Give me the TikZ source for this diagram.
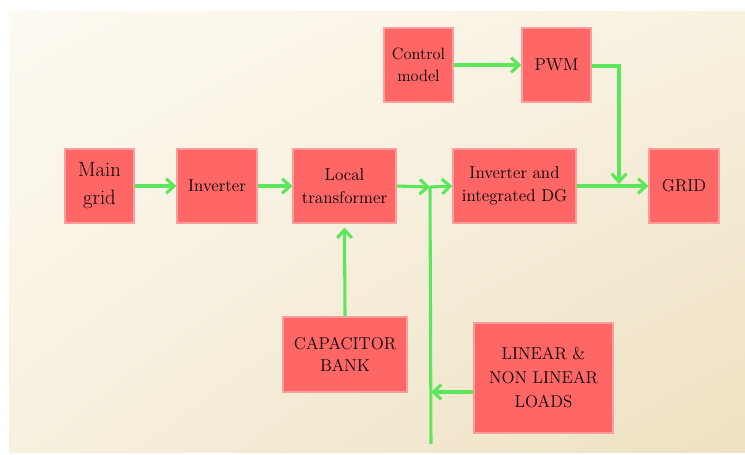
\documentclass[tikz,border=0pt]{standalone}
\usepackage{fontspec}
\usetikzlibrary{arrows.meta,shadings}
\definecolor{boxfill}{HTML}{FF6666}
\definecolor{boxline}{HTML}{FF9C9C}
\definecolor{wire}{HTML}{5CE65C}
\definecolor{bgTL}{HTML}{FDFAF2}
\definecolor{bgTR}{HTML}{F8F1DF}
\definecolor{bgBL}{HTML}{F7F0DE}
\definecolor{bgBR}{HTML}{EEE1C2}
\tikzset{
  blk/.style 2 args={draw=boxline, line width=0.9pt, fill=boxfill, align=center,
    inner sep=1pt, minimum width=#1*0.75pt, minimum height=#2*0.75pt,
    font=\fontsize{12.8}{16.8}\selectfont},
  wirearrow/.style={draw=wire, line width=2.3pt, -{Straight Barb[length=6pt,width=11pt,line width=2.3pt]}},
  wireline/.style={draw=wire, line width=2.3pt}
}
\begin{document}
\begin{tikzpicture}[x=0.75pt,y=-0.75pt]
\useasboundingbox (0,0) rectangle (745,454);
\fill[white] (0,0) rectangle (745,454);
\shade[upper left=bgTL, upper right=bgTR, lower left=bgBL, lower right=bgBR] (9,11) rectangle (745,452);

\node[blk={69}{74}, font=\fontsize{15.5}{21}\selectfont] (main) at (99.5,186) {Main\\grid};
\node[blk={80}{74}] (inv) at (217,186) {Inverter};
\node[blk={103}{74}] (local) at (344.5,186) {Local\\transformer};
\node[blk={123}{74}] (dg) at (514.5,186) {Inverter and\\integrated DG};
\node[blk={70}{74}] (grid) at (684,186) {GRID};
\node[blk={69}{74}, font=\fontsize{12.3}{16.8}\selectfont] (ctrl) at (418.5,65) {Control\\model};
\node[blk={69}{74}] (pwm) at (556.5,65) {PWM};
\node[blk={124}{75}] (cap) at (345,354.5) {CAPACITOR\\BANK};
\node[blk={139}{110}, font=\fontsize{12.8}{18}\selectfont] (loads) at (543.5,378) {LINEAR \&\\NON LINEAR\\LOADS};

\coordinate (j1) at (430,187);
\coordinate (jend) at (431,444);
\coordinate (jload) at (431,392);
\coordinate (pwmturn) at (619,66);
\coordinate (pwmdown) at (619,184);

\path[wirearrow] (main.east) -- (inv.west);
\path[wirearrow] (inv.east) -- (local.west);
\path[wirearrow] (local.east) -- (j1);
\path[wirearrow] (j1) -- (dg.west);
\path[wireline] (j1) -- (jend);
\path[wirearrow] (loads.west |- jload) -- (jload);
\path[wirearrow] (cap.north) -- ([yshift=-4*0.75pt]local.south);
\path[wirearrow] (dg.east) -- (grid.west);
\path[wirearrow] (ctrl.east) -- (pwm.west);
\path[wirearrow] (pwm.east |- pwmturn) -- (pwmturn) -- (pwmdown);
\end{tikzpicture}
\end{document}
